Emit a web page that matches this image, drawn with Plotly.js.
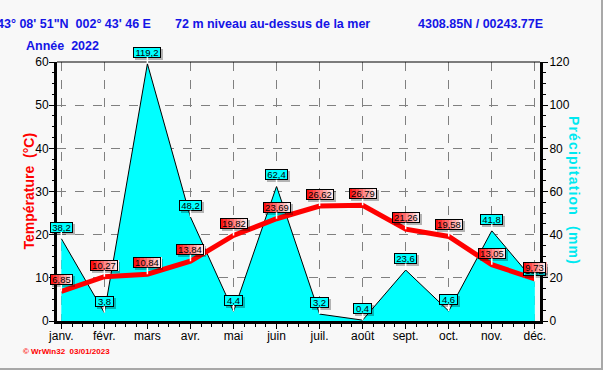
<!DOCTYPE html>
<html><head><meta charset="utf-8">
<script src="https://cdn.plot.ly/plotly-3.0.1.min.js"></script>
<style>
html,body{margin:0;padding:0;background:#f8f8f8;}
#wrap{position:relative;width:603px;height:370px;overflow:hidden;}
#chart{width:603px;height:370px;}
#frame{position:absolute;left:0;top:0;width:603px;height:370px;box-sizing:border-box;border-right:2px solid #a8a8a8;border-bottom:2px solid #a8a8a8;pointer-events:none;}
</style></head><body>
<div id="wrap"><div id="chart"></div><div id="frame"></div></div>
<script>
const months = ['janv.','févr.','mars','avr.','mai','juin','juil.','août','sept.','oct.','nov.','déc.'];
const temperature = [6.85,10.27,10.84,13.84,19.82,23.69,26.62,26.79,21.26,19.58,13.05,9.73];
const precipitation = [38.2,3.8,119.2,48.2,4.4,62.4,3.2,0.4,23.6,4.6,41.8,18.2];
const headerLeft = '43° 08\' 51"N\u00a0\u00a0002° 43\' 46 E';
const headerMid = '72 m niveau au-dessus de la mer';
const headerRight = '4308.85N / 00243.77E';
const yearLabel = 'Année\u00a0\u00a02022';
const tempTitle = 'Température\u00a0\u00a0(°C)';
const precTitle = 'Précipitation\u00a0\u00a0(mm)';
const credit = '© WrWin32  03/01/2023';

const xIdx = months.map((_, i) => i);
const FONT = 'Liberation Sans, Arial, sans-serif';
const fmt = v => String(v).replace('.', ',');
const innerW = s => Math.round(s.length * 4.6 + 3);
const LIFT = 11.5;
const spaced = s => Array.from(s).join('\u200a');

const ann = [];
function label(i, v, yref, kind) {
  const s = fmt(v);
  const w = innerW(s);
  const W = w + 2;
  ann.push({x: i, y: v, xref: 'x', yref: yref, showarrow: false, text: '\u00a0',
    width: W, height: 11, borderpad: 0, borderwidth: 0,
    xshift: 2, yshift: LIFT - 2, bgcolor: 'rgba(0,0,0,0.28)'});
  if (kind === 'r') {
    const N = 8;
    const sw = W / N;
    for (let k = 0; k < N; k++) {
      const t = k / (N - 1);
      const g = Math.round(15 + t * 215);
      ann.push({x: i, y: v, xref: 'x', yref: yref, showarrow: false, text: '\u00a0',
        width: W - k * sw, height: 11, borderpad: 0, borderwidth: 0,
        xshift: k * sw / 2, yshift: LIFT, bgcolor: `rgb(255,${g},${g})`});
    }
  }
  ann.push({x: i, y: v, xref: 'x', yref: yref, text: s,
    font: {family: FONT, size: 9.5, color: '#000'},
    width: w, height: 9, borderpad: 0, borderwidth: 1, bordercolor: '#000',
    bgcolor: kind === 'r' ? 'rgba(0,0,0,0)' : '#00ffff',
    showarrow: true, ax: 0, ay: -LIFT, arrowhead: 0, arrowwidth: 1.5,
    arrowcolor: '#ffffff', standoff: 0});
}
precipitation.forEach((v, i) => label(i, v, 'y', 'c'));
temperature.forEach((v, i) => label(i, v, 'y2', 'r'));

const L = 57, PW = 483, T = 62, PH = 259;
const px = p => (p - L) / PW;
const py = p => (T + PH - p) / PH;
const hdrFont = {family: FONT, size: 12.5, color: '#1414e6', weight: 'bold'};
ann.push({xref: 'paper', yref: 'paper', x: px(153), y: py(24), xanchor: 'right', yanchor: 'middle', showarrow: false, text: headerLeft, font: hdrFont});
ann.push({xref: 'paper', yref: 'paper', x: px(173), y: py(24), xanchor: 'left', yanchor: 'middle', showarrow: false, text: headerMid, font: hdrFont});
ann.push({xref: 'paper', yref: 'paper', x: px(545), y: py(24), xanchor: 'right', yanchor: 'middle', showarrow: false, text: headerRight, font: hdrFont});
ann.push({xref: 'paper', yref: 'paper', x: px(24), y: py(46), xanchor: 'left', yanchor: 'middle', showarrow: false, text: yearLabel, font: hdrFont});
ann.push({xref: 'paper', yref: 'paper', x: px(28), y: 0.5, xanchor: 'center', yanchor: 'middle', showarrow: false, textangle: -90, text: tempTitle, font: {family: FONT, size: 14, color: '#ff0000', weight: 'bold'}});
ann.push({xref: 'paper', yref: 'paper', x: px(574), y: py(190), xanchor: 'center', yanchor: 'middle', showarrow: false, textangle: 90, text: spaced(precTitle), font: {family: FONT, size: 14, color: '#00e8f0', weight: 'bold'}});
ann.push({xref: 'paper', yref: 'paper', x: px(21), y: py(351), xanchor: 'left', yanchor: 'middle', showarrow: false, text: credit, font: {family: FONT, size: 8, color: '#ff0000', weight: 'bold'}});

const traces = [
  {x: xIdx, y: precipitation, yaxis: 'y', type: 'scatter', mode: 'lines', fill: 'tozeroy',
   fillcolor: '#00ffff', line: {color: '#000', width: 1}, hoverinfo: 'skip'},
  {x: xIdx, y: temperature, yaxis: 'y2', type: 'scatter', mode: 'lines',
   line: {color: '#ff0000', width: 5}, hoverinfo: 'skip'}
];

const layout = {
  width: 603, height: 370,
  margin: {l: 57, r: 63, t: 62, b: 49, pad: 0},
  paper_bgcolor: '#f8f8f8', plot_bgcolor: '#f8f8f8',
  showlegend: false,
  font: {family: FONT, size: 12, color: '#000'},
  xaxis: {range: [-0.1, 11.12], tickmode: 'array', tickvals: xIdx, ticktext: months,
    showgrid: true, gridcolor: '#808080', griddash: 'dash', gridwidth: 1,
    showline: true, linecolor: '#000', linewidth: 3, zeroline: false,
    ticks: 'outside', ticklen: 5, tickcolor: '#000', tickwidth: 1, ticklabelstandoff: -3,
    minor: {tickmode: 'linear', tick0: 0, dtick: 0.25, ticks: 'outside', ticklen: 3, tickcolor: '#000', showgrid: false},
    tickfont: {family: FONT, size: 12, color: '#000'}},
  yaxis: {range: [0, 120], tickmode: 'linear', tick0: 0, dtick: 20, side: 'right',
    showgrid: true, gridcolor: '#808080', griddash: 'dash', gridwidth: 1,
    showline: true, linecolor: '#000', linewidth: 3, zeroline: false,
    ticks: 'outside', ticklen: 5, tickcolor: '#000', ticklabelstandoff: -1,
    minor: {tickmode: 'linear', tick0: 0, dtick: 5, ticks: 'outside', ticklen: 3, tickcolor: '#000', showgrid: false},
    tickfont: {family: FONT, size: 12, color: '#000'}},
  yaxis2: {range: [0, 60], tickmode: 'linear', tick0: 0, dtick: 10, overlaying: 'y', side: 'left',
    showgrid: false, showline: true, linecolor: '#000', linewidth: 3, zeroline: false,
    ticks: 'outside', ticklen: 5, tickcolor: '#000', ticklabelstandoff: -2,
    minor: {tickmode: 'linear', tick0: 0, dtick: 2.5, ticks: 'outside', ticklen: 2, tickcolor: '#000', showgrid: false},
    tickfont: {family: FONT, size: 12, color: '#000'}},
  shapes: [{type: 'line', xref: 'paper', yref: 'paper', x0: 0, x1: 1, y0: 1, y1: 1, line: {color: '#000', width: 1}}],
  annotations: ann
};
Plotly.newPlot('chart', traces, layout, {displayModeBar: false, staticPlot: true});
</script></body></html>
